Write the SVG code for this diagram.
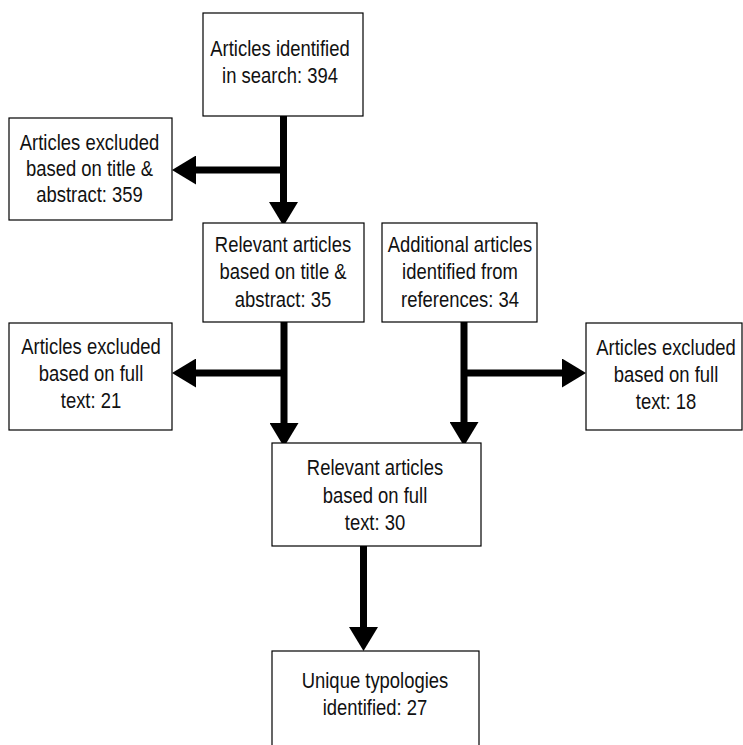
<svg xmlns="http://www.w3.org/2000/svg" width="743" height="745" viewBox="0 0 743 745">
<style>
.box{fill:#fff;stroke:#000;stroke-width:1.2}
.t{font-family:"Liberation Sans",Arial,sans-serif;font-size:22.5px;fill:#111;text-anchor:middle}
.c{fill:none;stroke:#000;stroke-width:7}
</style>
<defs>
<marker id="ah" markerUnits="userSpaceOnUse" markerWidth="24" markerHeight="29" refX="12" refY="14.5" orient="auto" viewBox="0 0 24 29">
<path d="M0,0 L24,14.5 L0,29 z" fill="#000"/>
</marker>
</defs>
<rect width="743" height="745" fill="#fff"/>
<g id="connectors">
<path class="c" d="M283.5,116 V214" marker-end="url(#ah)"/>
<path class="c" d="M283.5,170 H184" marker-end="url(#ah)"/>
<path class="c" d="M284,322 V435" marker-end="url(#ah)"/>
<path class="c" d="M284,373 H184" marker-end="url(#ah)"/>
<path class="c" d="M464,322 V434" marker-end="url(#ah)"/>
<path class="c" d="M464,373 H574" marker-end="url(#ah)"/>
<path class="c" d="M363.5,546 V639" marker-end="url(#ah)"/>
</g>
<g id="n1">
<rect class="box" x="203" y="13" width="160" height="103"/>
<g transform="translate(280,0) scale(0.82,1)">
<text class="t" x="0" y="56">Articles identified</text>
<text class="t" x="0" y="83">in search: 394</text>
</g>
</g>
<g id="n2">
<rect class="box" x="9" y="118" width="163" height="102"/>
<g transform="translate(89.5,0) scale(0.82,1)">
<text class="t" x="0" y="150">Articles excluded</text>
<text class="t" x="0" y="176">based on title &amp;</text>
<text class="t" x="0" y="202">abstract: 359</text>
</g>
</g>
<g id="n3">
<rect class="box" x="203" y="223" width="161" height="99"/>
<g transform="translate(283,0) scale(0.82,1)">
<text class="t" x="0" y="252">Relevant articles</text>
<text class="t" x="0" y="279">based on title &amp;</text>
<text class="t" x="0" y="307">abstract: 35</text>
</g>
</g>
<g id="n4">
<rect class="box" x="382" y="223" width="155" height="99"/>
<g transform="translate(460,0) scale(0.82,1)">
<text class="t" x="0" y="252">Additional articles</text>
<text class="t" x="0" y="279">identified from</text>
<text class="t" x="0" y="307">references: 34</text>
</g>
</g>
<g id="n5">
<rect class="box" x="9" y="323" width="163" height="107"/>
<g transform="translate(91,0) scale(0.82,1)">
<text class="t" x="0" y="354">Articles excluded</text>
<text class="t" x="0" y="381">based on full</text>
<text class="t" x="0" y="408">text: 21</text>
</g>
</g>
<g id="n6">
<rect class="box" x="586" y="323" width="156" height="107"/>
<g transform="translate(666,0) scale(0.82,1)">
<text class="t" x="0" y="355">Articles excluded</text>
<text class="t" x="0" y="382">based on full</text>
<text class="t" x="0" y="409">text: 18</text>
</g>
</g>
<g id="n7">
<rect class="box" x="272" y="443" width="209" height="103"/>
<g transform="translate(375,0) scale(0.82,1)">
<text class="t" x="0" y="475">Relevant articles</text>
<text class="t" x="0" y="503">based on full</text>
<text class="t" x="0" y="530">text: 30</text>
</g>
</g>
<g id="n8">
<rect class="box" x="272" y="651" width="207" height="110"/>
<g transform="translate(375,0) scale(0.82,1)">
<text class="t" x="0" y="688">Unique typologies</text>
<text class="t" x="0" y="715">identified: 27</text>
</g>
</g>
</svg>
